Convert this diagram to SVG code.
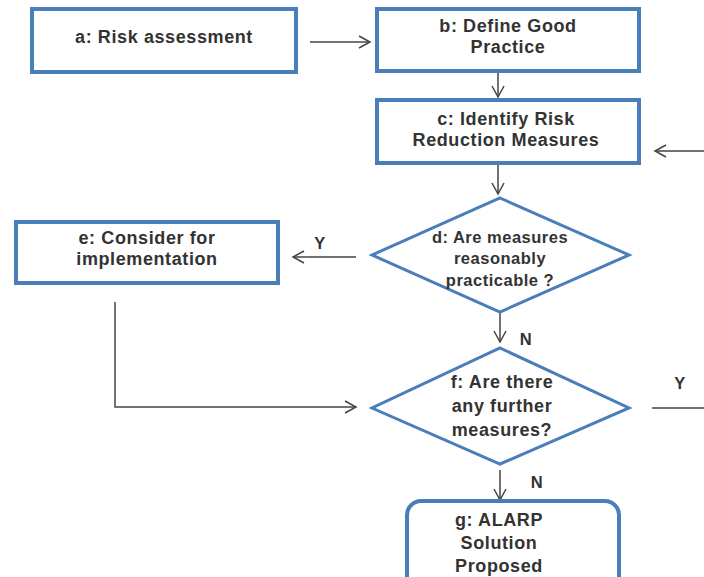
<svg xmlns="http://www.w3.org/2000/svg" width="704" height="577" viewBox="0 0 704 577">
<defs>
<marker id="arr" markerWidth="14" markerHeight="14" refX="12" refY="7" orient="auto" markerUnits="userSpaceOnUse">
<path d="M1,1 L12,7 L1,13" fill="none" stroke="#444" stroke-width="1.5"/>
</marker>
<style>
.box{fill:#fff;stroke:#4a7ebb;stroke-width:4}
.dia{fill:#fff;stroke:#4a7ebb;stroke-width:3}
.t{font-family:"Liberation Sans",Arial,sans-serif;font-size:18px;letter-spacing:0.6px;font-weight:bold;fill:#333;text-anchor:middle}
.s{font-size:16.5px;letter-spacing:0.5px}
.c{fill:none;stroke:#444;stroke-width:1.5}
</style>
</defs>
<rect width="704" height="577" fill="#fff"/>
<g id="connectors">
<line class="c" x1="310" y1="42" x2="370" y2="42" marker-end="url(#arr)"/>
<line class="c" x1="498" y1="72" x2="498" y2="97" marker-end="url(#arr)"/>
<line class="c" x1="704" y1="151" x2="655" y2="151" marker-end="url(#arr)"/>
<line class="c" x1="498" y1="164" x2="498" y2="194" marker-end="url(#arr)"/>
<line class="c" x1="356" y1="257" x2="293" y2="257" marker-end="url(#arr)"/>
<polyline class="c" points="115,302 115,407 356,407" marker-end="url(#arr)"/>
<line class="c" x1="500" y1="313" x2="500" y2="342" marker-end="url(#arr)"/>
<line class="c" x1="652" y1="408" x2="704" y2="408"/>
<line class="c" x1="500" y1="470" x2="500" y2="500" marker-end="url(#arr)"/>
<text class="t s" x="320" y="249">Y</text>
<text class="t s" x="526" y="345">N</text>
<text class="t s" x="680" y="389">Y</text>
<text class="t s" x="537" y="488">N</text>
</g>
<g id="a">
<rect class="box" x="32" y="9" width="264" height="63"/>
<text class="t" x="164" y="43">a: Risk assessment</text>
</g>
<g id="b">
<rect class="box" x="377" y="9" width="262" height="62"/>
<text class="t" x="508" y="32">b: Define Good</text>
<text class="t" x="508" y="53">Practice</text>
</g>
<g id="c">
<rect class="box" x="377" y="100" width="262" height="63"/>
<text class="t" x="506" y="125">c: Identify Risk</text>
<text class="t" x="506" y="146">Reduction Measures</text>
</g>
<g id="d">
<polygon class="dia" points="500,198 629,255 500,312 372,255"/>
<text class="t s" x="500" y="243">d: Are measures</text>
<text class="t s" x="500" y="264">reasonably</text>
<text class="t s" x="500" y="286">practicable ?</text>
</g>
<g id="e">
<rect class="box" x="16" y="222" width="262" height="61"/>
<text class="t" x="147" y="244">e: Consider for</text>
<text class="t" x="147" y="265">implementation</text>
</g>
<g id="f">
<polygon class="dia" points="500,348 629,408 500,464 372,408"/>
<text class="t" x="502" y="388">f: Are there</text>
<text class="t" x="502" y="412">any further</text>
<text class="t" x="502" y="436">measures?</text>
</g>
<g id="g">
<rect class="box" x="407" y="501" width="212" height="90" rx="14"/>
<text class="t" x="499" y="526">g: ALARP</text>
<text class="t" x="499" y="549">Solution</text>
<text class="t" x="499" y="572">Proposed</text>
</g>
</svg>
